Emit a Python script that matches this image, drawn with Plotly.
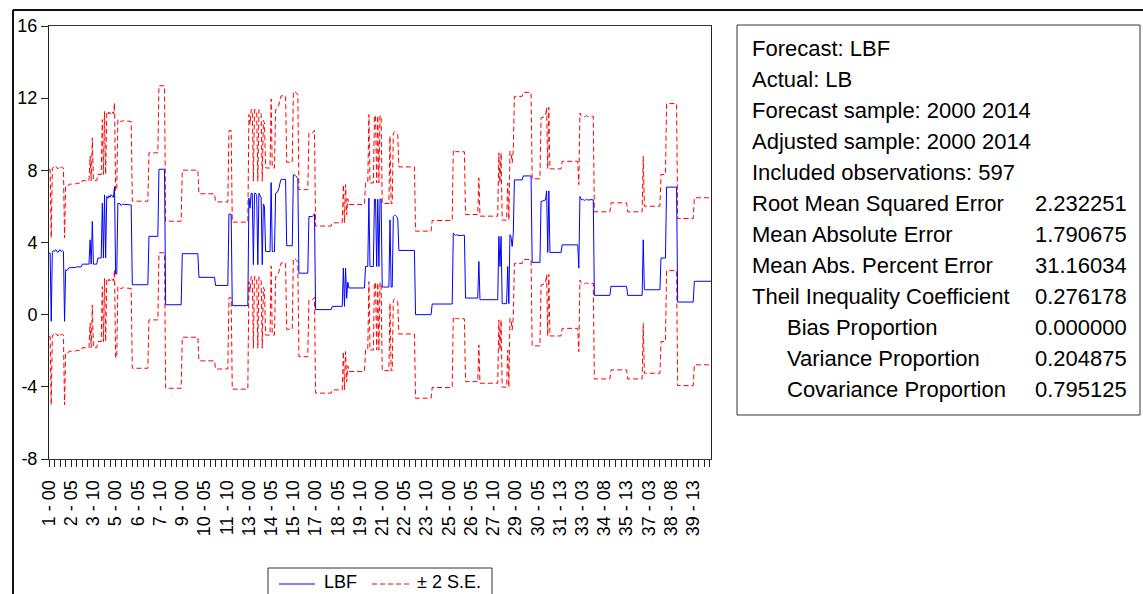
import plotly.graph_objects as go

# ---------------- data ----------------
# LBF forecast, as (value, number of consecutive observations) runs, 597 obs
lbf_runs = [
    (3.41, 2), (-0.37, 1),
    (3.45, 1), (3.55, 1), (3.5, 1), (3.6, 1), (3.5, 1), (3.45, 1), (3.55, 1), (3.6, 1), (3.5, 1), (3.55, 1), (3.5, 1),
    (-0.37, 1),
    (2.49, 1), (2.45, 1), (2.5, 1), (2.6, 3), (2.62, 4), (2.65, 5),
    (2.8, 7), (4.15, 1), (2.8, 1), (5.17, 1), (2.8, 4), (3.14, 4), (6.18, 1), (3.14, 1), (6.64, 1), (3.14, 1),
    (6.55, 1), (6.45, 1), (6.6, 1), (6.5, 1), (6.65, 1), (6.55, 1), (6.5, 1), (7.1, 1),
    (2.25, 2), (6.18, 1), (6.15, 2), (6.05, 1), (6.12, 3), (6.1, 3), (6.08, 3),
    (1.66, 15), (4.34, 9), (8.06, 6), (0.55, 15), (3.38, 15), (2.07, 15), (1.62, 12), (5.57, 3), (0.5, 15),
    (6.46, 1), (5.9, 1), (6.73, 2), (2.77, 1), (6.73, 2), (6.6, 1), (2.77, 1), (6.73, 1), (6.6, 1), (6.5, 1), (2.77, 1), (6.14, 1), (6.0, 1),
    (3.5, 5), (7.32, 1), (3.5, 3), (6.73, 1), (6.75, 1), (6.85, 1), (7.0, 1), (7.3, 1), (7.5, 5),
    (3.82, 6), (7.75, 2), (7.7, 1), (7.6, 1), (7.56, 1),
    (2.3, 9), (5.44, 4), (5.5, 1), (5.59, 1),
    (0.28, 15), (0.46, 10), (2.58, 1), (0.46, 1), (2.58, 1), (0.9, 1), (1.8, 1),
    (1.48, 15), (2.67, 3), (6.46, 1), (2.67, 4), (6.4, 2), (2.67, 1), (6.4, 1), (2.67, 1), (6.4, 2),
    (1.53, 7), (5.26, 1), (1.53, 2), (5.44, 1), (5.5, 2), (5.44, 1), (5.3, 1),
    (3.56, 15), (0.0, 15), (0.59, 19),
    (4.52, 1), (4.45, 1), (4.4, 1), (4.42, 1), (4.4, 1), (4.38, 1), (4.4, 1), (4.38, 1), (4.4, 3),
    (0.92, 12), (2.95, 1), (0.83, 17),
    (4.34, 1), (2.67, 1), (4.34, 1), (0.61, 5), (2.67, 1), (0.61, 1), (4.43, 1), (4.3, 1), (3.78, 1), (4.5, 1),
    (7.47, 8), (7.69, 8), (2.9, 8), (6.27, 1), (6.3, 2), (6.36, 2), (6.86, 1), (3.45, 1), (6.86, 1), (3.45, 11),
    (3.87, 15), (2.58, 1),
    (6.55, 1), (6.4, 1), (6.36, 1), (6.38, 1), (6.34, 1), (6.36, 1), (6.4, 1), (6.36, 1), (6.34, 1), (6.36, 1), (6.38, 1), (6.36, 2),
    (1.07, 15), (1.57, 15), (1.07, 14), (4.15, 1), (1.38, 15), (3.14, 5), (7.07, 10), (0.70, 15), (1.85, 16),
]
two_se = 4.63  # width of the +/- 2 S.E. band

tick_positions = [0, 20, 40, 60, 80, 100, 120, 140, 160, 180, 200, 220, 240, 260, 280,
                  300, 320, 340, 360, 380, 400, 420, 440, 460, 480, 500, 520, 540, 560, 580]
tick_labels = ["1 - 00", "2 - 05", "3 - 10", "5 - 00", "6 - 05", "7 - 10", "9 - 00",
               "10 - 05", "11 - 10", "13 - 00", "14 - 05", "15 - 10", "17 - 00", "18 - 05",
               "19 - 10", "21 - 00", "22 - 05", "23 - 10", "25 - 00", "26 - 05", "27 - 10",
               "29 - 00", "30 - 05", "31 - 13", "33 - 03", "34 - 08", "35 - 13", "37 - 03",
               "38 - 08", "39 - 13"]
y_ticks = [-8, -4, 0, 4, 8, 12, 16]

series_names = ["LBF", "\u00b1 2 S.E."]

stat_labels = ["Forecast: LBF", "Actual: LB", "Forecast sample: 2000 2014",
               "Adjusted sample: 2000 2014", "Included observations: 597",
               "Root Mean Squared Error", "Mean Absolute Error", "Mean Abs. Percent Error",
               "Theil Inequality Coefficient", "Bias Proportion", "Variance Proportion",
               "Covariance Proportion"]
stat_values = ["", "", "", "", "", "2.232251", "1.790675", "31.16034", "0.276178",
               "0.000000", "0.204875", "0.795125"]
stat_indent = [False] * 9 + [True] * 3

# ---------------- build series ----------------
lbf = []
for v, n in lbf_runs:
    lbf.extend([v] * n)
obs = list(range(len(lbf)))
upper = [v + two_se for v in lbf]
lower = [v - two_se for v in lbf]

FONT = "Liberation Sans, Arial, sans-serif"
BLUE = "#0000FF"
RED = "#FF0000"
DASH = "5px,3px"
W, H = 1143, 594
L, R, T, B = 49, 711, 26, 459  # plot area in pixels


def px(xp):
    return (xp - L) / (R - L)


def py(yp):
    return (B - yp) / (B - T)


fig = go.Figure()
fig.add_trace(go.Scatter(x=obs, y=upper, mode="lines", name=series_names[1],
                         line=dict(color=RED, width=1, dash=DASH), hoverinfo="skip"))
fig.add_trace(go.Scatter(x=obs, y=lower, mode="lines", name=series_names[1],
                         line=dict(color=RED, width=1, dash=DASH), hoverinfo="skip"))
fig.add_trace(go.Scatter(x=obs, y=lbf, mode="lines", name=series_names[0],
                         line=dict(color=BLUE, width=1)))

shapes = [
    # outer frame (top and left edges)
    dict(type="line", xref="paper", yref="paper", x0=px(13), x1=px(W + 5), y0=py(10), y1=py(10),
         line=dict(color="#111", width=2)),
    dict(type="line", xref="paper", yref="paper", x0=px(13), x1=px(13), y0=py(10), y1=py(H + 5),
         line=dict(color="#111", width=2)),
    # statistics box
    dict(type="rect", xref="paper", yref="paper", x0=px(737), x1=px(1140), y0=py(25), y1=py(415),
         line=dict(color="#333", width=1), fillcolor="rgba(0,0,0,0)"),
    # legend box and keys
    dict(type="rect", xref="paper", yref="paper", x0=px(268), x1=px(492), y0=py(568), y1=py(H + 10),
         line=dict(color="#333", width=1), fillcolor="white"),
    dict(type="line", xref="paper", yref="paper", x0=px(279), x1=px(315), y0=py(584), y1=py(584),
         line=dict(color=BLUE, width=1)),
    dict(type="line", xref="paper", yref="paper", x0=px(372), x1=px(409), y0=py(584), y1=py(584),
         line=dict(color=RED, width=1, dash=DASH)),
]

annotations = []
for k, (lab, val, ind) in enumerate(zip(stat_labels, stat_values, stat_indent)):
    yc = 48.5 + 31.0 * k
    annotations.append(dict(xref="paper", yref="paper", x=px(785 if ind else 750), y=py(yc),
                            text=lab, showarrow=False, xanchor="left", yanchor="middle",
                            font=dict(family=FONT, size=22, color="#000")))
    if val:
        annotations.append(dict(xref="paper", yref="paper", x=px(1129), y=py(yc),
                                text=val, showarrow=False, xanchor="right", yanchor="middle",
                                font=dict(family=FONT, size=22, color="#000")))
# legend texts
annotations.append(dict(xref="paper", yref="paper", x=px(322), y=py(582), text=series_names[0],
                        showarrow=False, xanchor="left", yanchor="middle",
                        font=dict(family=FONT, size=18, color="#000")))
annotations.append(dict(xref="paper", yref="paper", x=px(415), y=py(582), text=series_names[1],
                        showarrow=False, xanchor="left", yanchor="middle",
                        font=dict(family=FONT, size=18, color="#000")))

fig.update_layout(
    width=W, height=H, autosize=False,
    margin=dict(l=L, r=W - R, t=T, b=H - B, pad=0, autoexpand=False),
    paper_bgcolor="white", plot_bgcolor="white",
    font=dict(family=FONT, size=18, color="#000"),
    showlegend=False,
    shapes=shapes,
    annotations=annotations,
)
fig.update_xaxes(range=[0, len(lbf) - 1], tickmode="array", tickvals=tick_positions,
                 ticktext=tick_labels, tickangle=-90, ticks="outside", ticklen=7,
                 tickcolor="#222", showline=True, linecolor="#333", linewidth=1, mirror=True,
                 showgrid=False, zeroline=False, ticklabelstandoff=6, automargin=False,
                 tickfont=dict(family=FONT, size=18, color="#000"),
                 minor=dict(ticks="outside", ticklen=7, tick0=0, dtick=5, tickcolor="#222",
                            showgrid=False))
fig.update_yaxes(range=[-8, 16], tickmode="array", tickvals=y_ticks,
                 ticktext=[str(v) for v in y_ticks], ticks="outside", ticklen=7,
                 tickcolor="#222", showline=True, linecolor="#222", linewidth=1, mirror=True,
                 showgrid=False, zeroline=False, automargin=False,
                 tickfont=dict(family=FONT, size=18, color="#000"))

fig.write_html("out.html")
